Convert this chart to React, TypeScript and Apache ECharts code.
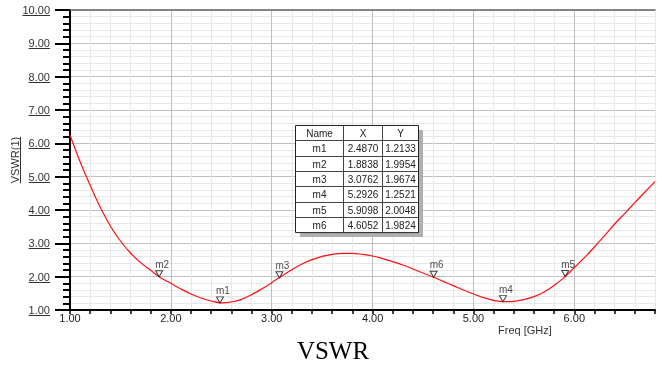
import React, { useEffect, useRef } from 'react';
import * as echarts from 'echarts';

const freqs = [
  1.0, 1.1, 1.2, 1.3, 1.4, 1.5, 1.6, 1.7, 1.8, 1.9,
  2.0, 2.1, 2.2, 2.3, 2.4, 2.5, 2.6, 2.7, 2.8, 2.9,
  3.0, 3.1, 3.2, 3.3, 3.4, 3.5, 3.6, 3.7, 3.8, 3.9,
  4.0, 4.1, 4.2, 4.3, 4.4, 4.5, 4.6, 4.7, 4.8, 4.9,
  5.0, 5.1, 5.2, 5.3, 5.4, 5.5, 5.6, 5.7, 5.8, 5.9,
  6.0, 6.1, 6.2, 6.3, 6.4, 6.5, 6.6, 6.7, 6.8,
];
const vswr = [
  6.25, 5.45, 4.74, 4.08, 3.52, 3.07, 2.71, 2.42, 2.19, 1.97,
  1.8, 1.63, 1.48, 1.36, 1.27, 1.215, 1.24, 1.32, 1.46, 1.63,
  1.82, 2.02, 2.21, 2.38, 2.51, 2.61, 2.67, 2.7, 2.7, 2.67,
  2.62, 2.54, 2.45, 2.35, 2.23, 2.11, 1.99, 1.86, 1.73, 1.6,
  1.48, 1.37, 1.29, 1.25, 1.26, 1.31, 1.4, 1.54, 1.74, 1.98,
  2.27, 2.57, 2.89, 3.23, 3.58, 3.9, 4.22, 4.54, 4.85,
];
const markerNames = ['m1', 'm2', 'm3', 'm4', 'm5', 'm6'];
const markerX = [2.487, 1.8838, 3.0762, 5.2926, 5.9098, 4.6052];
const markerY = [1.2133, 1.9954, 1.9674, 1.2521, 2.0048, 1.9824];
const tableHeader = ['Name', 'X', 'Y'];
const yTickValues = [1, 2, 3, 4, 5, 6, 7, 8, 9, 10];
const chartTitle = 'VSWR';
const yAxisTitle = 'VSWR(1)';
const xAxisTitle = 'Freq [GHz]';

const FONT = '"Liberation Sans", Arial, sans-serif';
const TOP_Z = 100;

function measure(text: string, font: string): number {
  const c = document.createElement('canvas');
  const ctx = c.getContext('2d');
  if (!ctx) return text.length * 6;
  ctx.font = font;
  return ctx.measureText(text).width;
}

function txt(x: number, y: number, text: string, font: string, fill: string, align: string, vAlign: string, extra: any = {}) {
  return {
    type: 'text',
    x,
    y,
    z: TOP_Z + 2,
    ...extra,
    style: {
      text,
      font,
      fill,
      align,
      verticalAlign: vAlign,
      textAlign: align,
      textVerticalAlign: vAlign,
    },
  };
}

export default function App() {
  const ref = useRef<HTMLDivElement>(null);
  useEffect(() => {
    const chart = echarts.init(ref.current!, null, { renderer: 'svg' });
    const isInt = (v: number) => Math.abs(v - Math.round(v)) < 1e-6;
    const majorColor = '#c0c0c0';
    const minorColor = '#e8e8e8';

    // marker table
    const tLeft = 295;
    const tTop = 125;
    const colEdges = [0, 48, 87, 123];
    const rowH = 15.3;
    const rows = [tableHeader, ...markerNames.map((n, i) => [n, markerX[i].toFixed(4), markerY[i].toFixed(4)])];
    const tW = colEdges[3];
    const tH = rowH * rows.length;
    const tableChildren: any[] = [
      { type: 'rect', z: TOP_Z, shape: { x: 5, y: 5, width: tW, height: tH }, style: { fill: '#b0b0b0' } },
      { type: 'rect', z: TOP_Z + 1, shape: { x: 0.5, y: 0.5, width: tW, height: tH }, style: { fill: '#fff', stroke: '#222', lineWidth: 1 } },
    ];
    for (let r = 1; r < rows.length; r++) {
      const y = Math.round(r * rowH) + 0.5;
      tableChildren.push({ type: 'line', z: TOP_Z + 2, shape: { x1: 0.5, y1: y, x2: tW + 0.5, y2: y }, style: { stroke: '#444', lineWidth: 1 } });
    }
    for (let c = 1; c < 3; c++) {
      tableChildren.push({ type: 'line', z: TOP_Z + 2, shape: { x1: colEdges[c] + 0.5, y1: 0.5, x2: colEdges[c] + 0.5, y2: tH + 0.5 }, style: { stroke: '#444', lineWidth: 1 } });
    }
    rows.forEach((row, r) => {
      row.forEach((cell, c) => {
        const cx = (colEdges[c] + colEdges[c + 1]) / 2 + 0.5;
        const cy = r * rowH + rowH / 2 + 1;
        tableChildren.push(txt(cx, cy, cell, `10px ${FONT}`, '#222', 'center', 'middle', { z: TOP_Z + 3 }));
      });
    });

    const baseGraphic: any[] = [
      { type: 'group', x: tLeft, y: tTop, z: TOP_Z, children: tableChildren },
      txt(498, 330, xAxisTitle, `11px ${FONT}`, '#333', 'left', 'middle'),
      txt(333, 350, chartTitle, '25px "Liberation Serif", "Times New Roman", serif', '#000', 'center', 'middle'),
      txt(15, 160, yAxisTitle, `11px ${FONT}`, '#333', 'center', 'middle', { rotation: Math.PI / 2 }),
    ];

    chart.setOption({
      animation: false,
      grid: { left: 70, right: 7, top: 10, bottom: 57, containLabel: false },
      xAxis: [
        {
          type: 'value',
          min: 1,
          max: 6.8,
          interval: 0.2,
          position: 'bottom',
          axisLine: { show: true, onZero: false, lineStyle: { color: '#000', width: 2 } },
          axisTick: { show: true, length: 4, lineStyle: { color: '#000', width: 1.5 } },
          axisLabel: {
            formatter: (v: number) => (isInt(v) ? v.toFixed(2) : ''),
            fontSize: 11,
            fontFamily: FONT,
            color: '#222',
            margin: 2,
          },
          splitLine: { show: true, lineStyle: { color: [majorColor, minorColor, minorColor, minorColor, minorColor], width: 1 } },
        },
        {
          type: 'value',
          min: 1,
          max: 6.8,
          interval: 0.2,
          position: 'top',
          axisLine: { show: true, onZero: false, lineStyle: { color: '#666', width: 1.5 } },
          axisTick: { show: false },
          axisLabel: { show: false },
          splitLine: { show: false },
        },
      ],
      yAxis: {
        type: 'value',
        min: 1,
        max: 10,
        interval: 1,
        axisLine: { show: true, onZero: false, lineStyle: { color: '#000', width: 2 } },
        axisTick: { show: true, length: 15, lineStyle: { color: '#000', width: 2 } },
        minorTick: { show: true, splitNumber: 5, length: 7, lineStyle: { color: '#000', width: 2 } },
        axisLabel: {
          formatter: (v: number) => v.toFixed(2),
          fontSize: 11,
          fontFamily: FONT,
          color: '#333',
          margin: 20,
        },
        splitLine: { show: true, lineStyle: { color: majorColor, width: 1 } },
        minorSplitLine: { show: true, lineStyle: { color: minorColor, width: 1 } },
      },
      series: [
        {
          type: 'line',
          data: freqs.map((f, i) => [f, vswr[i]]),
          showSymbol: false,
          smooth: 0.4,
          lineStyle: { color: '#ff1010', width: 1.2 },
          z: 3,
        },
        {
          type: 'scatter',
          data: markerNames.map((n, i) => ({ name: n, value: [markerX[i], markerY[i]] })),
          symbol: 'path://M0,0L10,0L5,8Z',
          symbolSize: [7, 6],
          symbolOffset: [0, -3],
          itemStyle: { color: '#fff', borderColor: '#111', borderWidth: 1 },
          label: {
            show: true,
            position: 'top',
            distance: 1,
            offset: [3, 0],
            formatter: '{b}',
            fontSize: 10,
            fontFamily: FONT,
            color: '#222',
          },
          z: 5,
        },
      ],
      graphic: baseGraphic,
    });

    // underlines under y-axis labels and y-axis title
    const labelFont = `11px ${FONT}`;
    const underlines: any[] = [];
    yTickValues.forEach((v) => {
      const py = chart.convertToPixel({ yAxisIndex: 0 }, v) as number;
      const w = measure(v.toFixed(2), labelFont);
      const y = Math.round(py + 5) + 0.5;
      underlines.push({ type: 'line', z: TOP_Z, shape: { x1: 50 - w, y1: y, x2: 50, y2: y }, style: { stroke: '#333', lineWidth: 1 } });
    });
    const tw = measure(yAxisTitle, labelFont);
    underlines.push({ type: 'line', z: TOP_Z, shape: { x1: 20.5, y1: 160 - tw / 2, x2: 20.5, y2: 160 + tw / 2 }, style: { stroke: '#333', lineWidth: 1 } });
    chart.setOption({ graphic: [...baseGraphic, ...underlines] });

    return () => chart.dispose();
  }, []);
  return <div ref={ref} style={{ position: 'fixed', left: 0, top: 0, width: 662, height: 367 }} />;
}
